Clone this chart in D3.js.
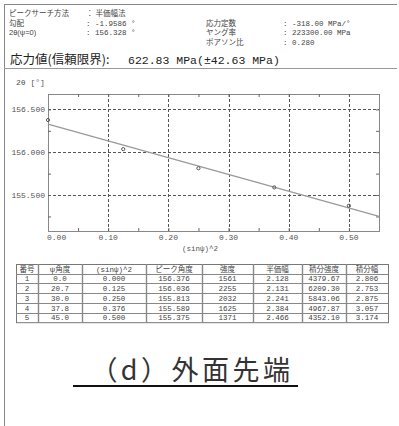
<!DOCTYPE html>
<html><head><meta charset="utf-8">
<script src="https://cdn.jsdelivr.net/npm/d3@7"></script>
<style>
html,body{margin:0;padding:0;background:#fff;}
svg{display:block;}
</style></head>
<body>
<script>
// ---- data ----
const headerLeftLabels = ["ピークサーチ方法", "勾配", "2θ(ψ=0)"];
const headerLeftValues = ["： 半価幅法", ": -1.9586 °", ": 156.328 °"];
const headerRightLabels = ["応力定数", "ヤング率", "ポアソン比"];
const headerRightValues = [": -318.00 MPa/°", ": 223300.00 MPa", ": 0.280"];
const stressLabel = "応力値(信頼限界):";
const stressValue = "622.83 MPa(±42.63 MPa)";
const slope = -1.9586;
const intercept = 156.328;
const rowNo = [1, 2, 3, 4, 5];
const psiAngle = ["0.0", "20.7", "30.0", "37.8", "45.0"];
const sin2psi = [0.000, 0.125, 0.250, 0.376, 0.500];
const peakAngle = [156.376, 156.036, 155.813, 155.589, 155.375];
const intensity = [1561, 2255, 2032, 1625, 1371];
const fwhm = ["2.128", "2.131", "2.241", "2.384", "2.466"];
const integIntensity = ["4379.67", "6209.30", "5843.06", "4967.87", "4352.10"];
const integWidth = ["2.806", "2.753", "2.875", "3.057", "3.174"];
const tableHeaders = ["番号", "ψ角度", "(sinψ)^2", "ピーク角度", "強度", "半価幅", "積分強度", "積分幅"];
const xTicks = [0.00, 0.10, 0.20, 0.30, 0.40, 0.50];
const yTicks = [155.5, 156.0, 156.5];
const xLabel = "(sinψ)^2";
const yLabel = "2θ [°]";
const caption = "（d）外面先端";

// ---- drawing ----
const W = 399, H = 426;
const svg = d3.select("body").append("svg").attr("width", W).attr("height", H);
const CJK = "'Noto Sans CJK JP', sans-serif";
const HDR = "'Liberation Sans', 'Noto Sans CJK JP', sans-serif";
const MONO = "'Liberation Mono', 'DejaVu Sans Mono', monospace";

// frame lines
svg.append("line").attr("x1", 4.5).attr("x2", 4.5).attr("y1", 4).attr("y2", H).attr("stroke", "#888").attr("stroke-width", 1);
svg.append("line").attr("x1", 4).attr("x2", 397).attr("y1", 4.5).attr("y2", 4.5).attr("stroke", "#888").attr("stroke-width", 1);
svg.append("line").attr("x1", 4).attr("x2", 397).attr("y1", 68.5).attr("y2", 68.5).attr("stroke", "#999").attr("stroke-width", 1);

// header
const hdr = svg.append("g").attr("fill", "#444").attr("font-size", 7.5);
const leftRowsY = [16, 25.5, 35];
headerLeftLabels.forEach((t, i) => {
  hdr.append("text").attr("x", 9).attr("y", leftRowsY[i]).attr("font-family", HDR).text(t);
  hdr.append("text").attr("x", 86).attr("y", leftRowsY[i]).attr("font-family", i === 0 ? HDR : MONO).text(headerLeftValues[i]);
});
const rightRowsY = [25.5, 35, 44.5];
headerRightLabels.forEach((t, i) => {
  hdr.append("text").attr("x", 206).attr("y", rightRowsY[i]).attr("font-family", HDR).text(t);
  hdr.append("text").attr("x", 283).attr("y", rightRowsY[i]).attr("font-family", MONO).text(headerRightValues[i]);
});
svg.append("text").attr("x", 10).attr("y", 64).attr("font-family", CJK).attr("font-size", 12.5).attr("fill", "#222").text(stressLabel);
svg.append("text").attr("x", 128).attr("y", 64).attr("font-family", MONO).attr("font-size", 11.5).attr("fill", "#222").text(stressValue);

// plot
const x = d3.scaleLinear().domain([0, 0.55]).range([48, 379]);
const y = d3.scaleLinear().domain([155.08, 156.68]).range([231, 94]);
const plot = svg.append("g");

// grid
plot.selectAll(".gx").data(xTicks.filter(d => d > 0)).join("line")
  .attr("x1", d => Math.round(x(d)) + 0.5).attr("x2", d => Math.round(x(d)) + 0.5)
  .attr("y1", 94).attr("y2", 231).attr("stroke", "#555").attr("stroke-dasharray", "3,2");
plot.selectAll(".gy").data(yTicks).join("line")
  .attr("y1", d => Math.round(y(d)) + 0.5).attr("y2", d => Math.round(y(d)) + 0.5)
  .attr("x1", 48).attr("x2", 379).attr("stroke", "#555").attr("stroke-dasharray", "3,2");

// axes (inward ticks)
const axB = d3.axisBottom(x).tickValues(d3.range(0, 0.551, 0.05)).tickSize(-3).tickFormat("");
const axT = d3.axisTop(x).tickValues(d3.range(0, 0.551, 0.05)).tickSize(-3).tickFormat("");
const axL = d3.axisLeft(y).tickValues(d3.range(155.25, 156.6, 0.25)).tickSize(-3).tickFormat("");
const axR = d3.axisRight(y).tickValues(d3.range(155.25, 156.6, 0.25)).tickSize(-3).tickFormat("");
[[axB, "translate(0,231)"], [axT, "translate(0,94)"], [axL, "translate(48,0)"], [axR, "translate(379,0)"]].forEach(([a, t]) => {
  const g = plot.append("g").attr("transform", t).call(a);
  g.select(".domain").attr("stroke", "#888");
  g.selectAll(".tick line").attr("stroke", "#666");
});

// tick labels
const tl = plot.append("g").attr("font-family", MONO).attr("font-size", 8).attr("fill", "#555");
xTicks.forEach((d, i) => {
  tl.append("text").attr("x", i === 0 ? x(d) - 1 : x(d)).attr("y", 240)
    .attr("text-anchor", i === 0 ? "start" : "middle").text(d.toFixed(2));
});
yTicks.forEach(d => {
  tl.append("text").attr("x", 45).attr("y", y(d) + 3).attr("text-anchor", "end").text(d.toFixed(3));
});
svg.append("text").attr("x", 16).attr("y", 85).attr("font-family", MONO).attr("font-size", 8).attr("fill", "#555").text(yLabel);
svg.append("text").attr("x", 182).attr("y", 251).attr("font-family", MONO).attr("font-size", 7.5).attr("fill", "#555").text(xLabel);

// regression line
plot.append("line")
  .attr("x1", x(0)).attr("y1", y(intercept))
  .attr("x2", x(0.55)).attr("y2", y(intercept + slope * 0.55))
  .attr("stroke", "#999").attr("stroke-width", 1.2);

// points
plot.selectAll(".pt").data(sin2psi).join("circle")
  .attr("cx", d => x(d)).attr("cy", (d, i) => y(peakAngle[i])).attr("r", 1.6)
  .attr("fill", "none").attr("stroke", "#555").attr("stroke-width", 1);

// table
const colX = [16, 38, 82, 146, 202, 253, 302, 346, 388];
const tTop = 264, rh = 9.7;
const tg = svg.append("g");
const nRows = 6;
tg.append("rect").attr("x", colX[0] + 0.5).attr("y", tTop + 0.5).attr("width", colX[8] - colX[0]).attr("height", rh * nRows)
  .attr("fill", "none").attr("stroke", "#777");
colX.slice(1, -1).forEach(cx => {
  tg.append("line").attr("x1", cx + 0.5).attr("x2", cx + 0.5).attr("y1", tTop).attr("y2", tTop + rh * nRows).attr("stroke", "#888").attr("stroke-width", 1.4);
});
for (let r = 1; r < nRows; r++) {
  tg.append("line").attr("x1", colX[0]).attr("x2", colX[8]).attr("y1", Math.round(tTop + rh * r) + 0.5).attr("y2", Math.round(tTop + rh * r) + 0.5).attr("stroke", "#888");
}
tableHeaders.forEach((h, c) => {
  tg.append("text").attr("x", (colX[c] + colX[c + 1]) / 2).attr("y", tTop + rh - 2)
    .attr("text-anchor", "middle").attr("font-family", c === 2 ? MONO : HDR).attr("font-size", 7.5).attr("fill", "#444").text(h);
});
const rows = rowNo.map((n, i) => [String(n), psiAngle[i], sin2psi[i].toFixed(3), peakAngle[i].toFixed(3), String(intensity[i]), fwhm[i], integIntensity[i], integWidth[i]]);
rows.forEach((row, r) => {
  row.forEach((v, c) => {
    tg.append("text").attr("x", (colX[c] + colX[c + 1]) / 2).attr("y", tTop + rh * (r + 2) - 2)
      .attr("text-anchor", "middle").attr("font-family", MONO).attr("font-size", 7.5).attr("fill", "#444").text(v);
  });
});

// caption
svg.append("text").attr("x", 192).attr("y", 380).attr("text-anchor", "middle")
  .attr("font-family", CJK).attr("font-size", 27).attr("letter-spacing", 3.5).attr("fill", "#333").text(caption);
svg.append("line").attr("x1", 73).attr("x2", 298).attr("y1", 386).attr("y2", 386).attr("stroke", "#111").attr("stroke-width", 2);
</script>
</body></html>
